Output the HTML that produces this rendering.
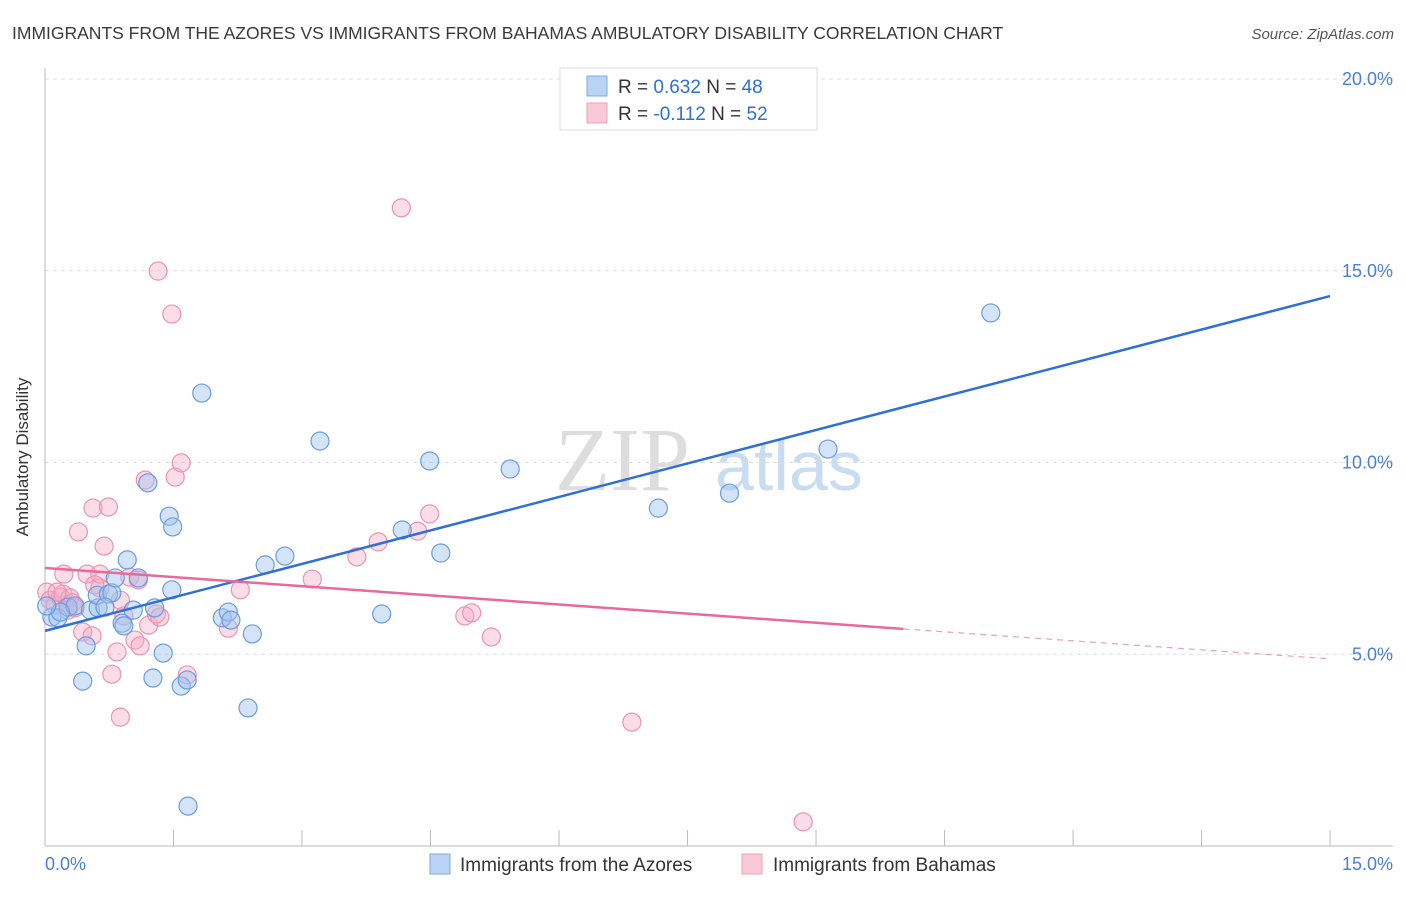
<!DOCTYPE html>
<html><head><meta charset="utf-8"><style>
body{margin:0;background:#fff;font-family:"Liberation Sans",sans-serif;}
</style></head><body>
<svg width="1406" height="892" xmlns="http://www.w3.org/2000/svg" font-family="Liberation Sans, sans-serif">
<text x="12" y="39" font-size="17.5" fill="#3a3a3a">IMMIGRANTS FROM THE AZORES VS IMMIGRANTS FROM BAHAMAS AMBULATORY DISABILITY CORRELATION CHART</text>
<text x="1394" y="39" font-size="15" fill="#555" text-anchor="end" font-style="italic">Source: ZipAtlas.com</text>
<g><text x="555" y="490" font-size="90" fill="#ddd" font-family="Liberation Serif, serif">ZIP</text><text x="715" y="490" font-size="70" fill="#c8dcf2">atlas</text></g>
<g id="grid"></g><g id="axes"></g><g id="marks"></g>
<text x="26" y="455" font-size="17" fill="#333" text-anchor="middle" transform="rotate(-90 28 455)">Ambulatory Disability</text>
<g>
<rect x="560" y="68" width="257" height="62" fill="#fff" stroke="#ddd"/>
<rect x="587" y="76" width="20" height="20" fill="#b9d3f5" stroke="#7fa8e0"/>
<rect x="587" y="103" width="20" height="20" fill="#f9c9d8" stroke="#eea0ba"/>
<text x="618" y="93" font-size="19" fill="#333">R = <tspan fill="#2f6fd6">0.632</tspan>   N = <tspan fill="#2f6fd6">48</tspan></text>
<text x="618" y="120" font-size="19" fill="#333">R = <tspan fill="#2f6fd6">-0.112</tspan>   N = <tspan fill="#2f6fd6">52</tspan></text>
</g>
<g>
<rect x="430" y="854" width="20" height="20" fill="#b9d3f5" stroke="#7fa8e0"/>
<text x="460" y="871" font-size="19" fill="#333">Immigrants from the Azores</text>
<rect x="742" y="854" width="20" height="20" fill="#f9c9d8" stroke="#eea0ba"/>
<text x="773" y="871" font-size="19" fill="#333">Immigrants from Bahamas</text>
</g>
</svg>
<script>
const blueX=[0.08,0.15,0.27,0.35,0.48,0.44,0.53,0.62,0.61,0.74,0.78,0.82,0.90,0.92,0.96,1.03,1.09,1.20,1.26,1.28,1.38,1.45,1.49,1.48,1.59,1.66,1.67,1.83,2.07,2.14,2.17,2.37,2.42,2.57,2.80,3.21,3.93,4.17,4.49,4.62,5.43,7.16,7.99,9.14,11.04,0.18,0.70,0.02];
const blueY=[5.97,5.95,6.23,6.26,5.22,4.30,6.15,6.21,6.54,6.57,6.60,6.99,5.81,5.74,7.46,6.15,6.99,9.47,4.38,6.21,5.03,8.60,8.32,6.68,4.17,4.33,1.04,11.81,5.95,6.10,5.89,3.60,5.53,7.33,7.56,10.56,6.05,8.24,10.04,7.64,9.83,8.81,9.20,10.35,13.90,6.10,6.23,6.26];
const pinkX=[0.02,0.06,0.12,0.18,0.21,0.22,0.29,0.32,0.39,0.44,0.49,0.56,0.55,0.64,0.64,0.69,0.74,0.78,0.84,0.88,0.92,0.99,1.05,1.09,1.11,1.17,1.21,1.30,1.34,1.32,1.48,1.52,1.59,1.66,2.14,2.28,3.12,3.64,3.89,4.16,4.35,4.49,4.90,4.98,5.21,6.85,8.85,0.35,0.27,0.14,0.58,0.88];
const pinkY=[6.62,6.41,6.28,6.49,6.57,7.09,6.47,6.34,8.19,5.58,7.09,8.81,5.48,6.73,7.09,7.82,8.84,4.48,5.06,3.36,6.00,7.01,5.37,6.94,5.22,9.54,5.76,6.05,5.97,14.99,13.87,9.62,9.99,4.46,5.68,6.68,6.96,7.54,7.93,16.64,8.21,8.66,6.00,6.08,5.45,3.23,0.63,6.21,6.15,6.62,6.81,6.41];
const yTicks=[5,10,15,20];
const yTickLabels=["5.0%","10.0%","15.0%","20.0%"];
const xTicks=[0,1.5,3,4.5,6,7.5,9,10.5,12,13.5,15];
const blueTrend=[[0,5.61],[15,14.34]];
const pinkTrend=[[0,7.25],[10.02,5.66],[15,4.88]];
const NS="http://www.w3.org/2000/svg";
const sx=v=>45+v*85.67, sy=v=>846-v*38.35;
function mk(tag,attrs,parent){const e=document.createElementNS(NS,tag);for(const k in attrs)e.setAttribute(k,attrs[k]);document.getElementById(parent).appendChild(e);return e;}
yTicks.forEach((t,i)=>{
 const g=mk('line',{x1:45,x2:1393,y1:sy(t),y2:sy(t),stroke:'#ddd','stroke-dasharray':'4,4'},'grid');
 
 
 const tx=mk('text',{x:1393,y:sy(t)+6,'font-size':18,fill:'#4a7fd6','text-anchor':'end'},'axes');
 tx.textContent=yTickLabels[i];
 
 
});
let a=mk('line',{x1:45,x2:45,y1:68,y2:846,stroke:'#bbb'},'axes');


a=mk('line',{x1:45,x2:1393,y1:846,y2:846,stroke:'#bbb'},'axes');


xTicks.forEach(t=>{const l=mk('line',{x1:sx(t),x2:sx(t),y1:830,y2:846,stroke:'#bbb'},'axes');
 
 });
let t=mk('text',{x:45,y:870,'font-size':18,fill:'#4a7fd6'},'axes');t.textContent='0.0%';


t=mk('text',{x:1393,y:870,'font-size':18,fill:'#4a7fd6','text-anchor':'end'},'axes');t.textContent='15.0%';


pinkX.forEach((x,i)=>{const c=mk('circle',{cx:sx(x),cy:sy(pinkY[i]),r:9,fill:'rgba(244,170,195,0.4)',stroke:'#eb93b1','stroke-width':1.2},'marks');
 
 });
blueX.forEach((x,i)=>{const c=mk('circle',{cx:sx(x),cy:sy(blueY[i]),r:9,fill:'rgba(160,195,240,0.45)',stroke:'#6b9be0','stroke-width':1.2},'marks');
 
 });
let l=mk('line',{x1:sx(blueTrend[0][0]),y1:sy(blueTrend[0][1]),x2:sx(blueTrend[1][0]),y2:sy(blueTrend[1][1]),stroke:'#2f6fd6','stroke-width':2.5},'marks');


l=mk('line',{x1:sx(pinkTrend[0][0]),y1:sy(pinkTrend[0][1]),x2:sx(pinkTrend[1][0]),y2:sy(pinkTrend[1][1]),stroke:'#e8699a','stroke-width':2.5},'marks');


l=mk('line',{x1:sx(pinkTrend[1][0]),y1:sy(pinkTrend[1][1]),x2:sx(pinkTrend[2][0]),y2:sy(pinkTrend[2][1]),stroke:'#e8a0bb','stroke-width':1.2,'stroke-dasharray':'6,5'},'marks');


</script>
</body></html>
